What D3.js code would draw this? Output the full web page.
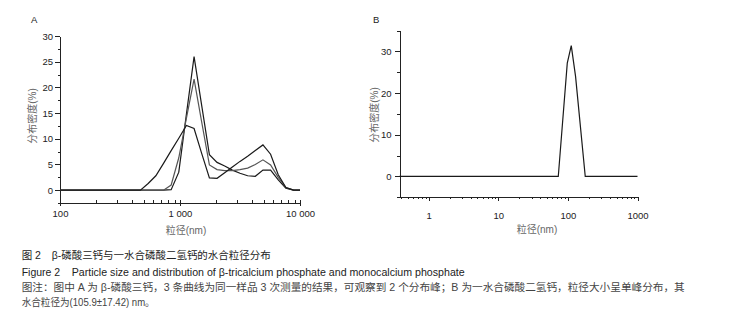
<!DOCTYPE html>
<html>
<head>
<meta charset="utf-8">
<script src="https://cdn.jsdelivr.net/npm/d3@7/dist/d3.min.js"></script>
<style>
  html, body { margin: 0; padding: 0; background: #fff; }
  svg { display: block; }
  text { font-family: "Liberation Sans", Arial, "Noto Sans CJK SC", sans-serif; }
</style>
</head>
<body>
<svg id="chart" width="733" height="323"></svg>
<script>
// ---- Data: panel A (β-TCP, 3 repeated measurements) ----
const sizesA = [100, 468, 543, 629, 729, 844, 977, 1131, 1310, 1518, 1758, 2036, 2358, 2731, 3162, 3662, 4241, 4911, 5688, 6587, 7628, 8834, 10000];
const run1 = [0, 0, 0, 0, 0, 0.1, 3.5, 14.8, 26.0, 16.4, 6.9, 5.4, 4.7, 3.9, 3.3, 2.8, 2.7, 3.9, 3.9, 2.0, 0.4, 0, 0];
const run2 = [0, 0, 0, 0, 0, 1.0, 6.3, 14.0, 21.6, 13.2, 4.9, 4.0, 3.8, 3.8, 4.0, 4.3, 5.0, 5.9, 4.9, 2.5, 0.5, 0, 0];
const run3 = [0, 0, 1.3, 2.8, 5.2, 7.7, 10.1, 12.6, 12.0, 7.1, 2.4, 2.3, 3.4, 4.5, 5.6, 6.6, 7.7, 8.8, 7.0, 3.0, 0.5, 0, 0];

// ---- Data: panel B (MCPM) ----
const sizesB = [0.38, 72.7, 97.9, 111.7, 128.8, 177.5, 1000];
const valuesB = [0, 0, 27.2, 31.4, 24.0, 0, 0];

// ---- Tick labels ----
const xTicksA = [100, 1000, 10000];
const xTickLabelsA = ["100", "1 000", "10 000"];
const yTicksA = [0, 5, 10, 15, 20, 25, 30];
const xTicksB = [1, 10, 100, 1000];
const xTickLabelsB = ["1", "10", "100", "1000"];
const yTicksB = [0, 10, 20, 30];

const yTitle = "分布密度(%)";
const xTitle = "粒径(nm)";
const captionLines = [
  ["图 2", "β-磷酸三钙与一水合磷酸二氢钙的水合粒径分布"],
  ["Figure 2", "Particle size and distribution of β-tricalcium phosphate and monocalcium phosphate"],
  ["图注：图中 A 为 β-磷酸三钙，3 条曲线为同一样品 3 次测量的结果，可观察到 2 个分布峰；B 为一水合磷酸二氢钙，粒径大小呈单峰分布，其"],
  ["水合粒径为(105.9±17.42) nm。"]
];

const svg = d3.select("#chart");
svg.append("rect").attr("width", 733).attr("height", 323).attr("fill", "#fff");

const axisColor = "#222";
const tickFont = 9.5;

function styleAxis(g) {
  g.selectAll("path,line").attr("stroke", axisColor).attr("stroke-width", 1).attr("shape-rendering", "crispEdges");
  g.selectAll("text").attr("fill", "#222").attr("font-size", tickFont);
}

// ================= Panel A =================
const xA = d3.scaleLog().domain([100, 10000]).range([60, 300]);
const yA = d3.scaleLinear().domain([-2.5, 30]).range([203, 36]);

// y axis
const yMinorA = d3.range(-2.5, 30, 5);
svg.append("g").attr("transform", "translate(60,0)")
  .call(d3.axisLeft(yA).tickValues(yMinorA).tickSize(2.5).tickSizeOuter(0).tickFormat(""))
  .call(styleAxis);
svg.append("g").attr("transform", "translate(60,0)")
  .call(d3.axisLeft(yA).tickValues(yTicksA).tickSize(5).tickSizeOuter(0).tickPadding(2).tickFormat(d3.format("d")))
  .call(styleAxis);

// x axis
const minorA = [];
[100, 1000].forEach(dec => { for (let k = 2; k <= 9; k++) minorA.push(dec * k); });
svg.append("g").attr("transform", `translate(0,${yA(-2.5)})`)
  .call(d3.axisTop(xA).tickValues(minorA.concat(xTicksA)).tickSize(3).tickSizeOuter(0).tickFormat(""))
  .call(styleAxis);
svg.append("g").attr("transform", `translate(0,${yA(-2.5)})`)
  .call(d3.axisBottom(xA).tickValues(xTicksA).tickSize(3).tickSizeOuter(0).tickPadding(4)
    .tickFormat((d, i) => xTickLabelsA[i]))
  .call(styleAxis);

// lines
const lineA = d3.line().x(d => xA(d[0])).y(d => yA(d[1]));
[[run1, "#1a1a1a"], [run2, "#555"], [run3, "#1a1a1a"]].forEach(([vals, col]) => {
  svg.append("path")
    .datum(sizesA.map((s, i) => [s, vals[i]]))
    .attr("d", lineA)
    .attr("fill", "none")
    .attr("stroke", col)
    .attr("stroke-width", 1.2)
    .attr("stroke-linejoin", "miter");
});

// titles
svg.append("text").attr("x", 31).attr("y", 23).attr("font-size", 9.5).attr("fill", "#222").text("A");
svg.append("text").attr("transform", "translate(36,116) rotate(-90)")
  .attr("text-anchor", "middle").attr("font-size", 10).attr("fill", "#666").text(yTitle);
svg.append("text").attr("x", 186).attr("y", 233.5)
  .attr("text-anchor", "middle").attr("font-size", 10).attr("fill", "#666").text(xTitle);

// ================= Panel B =================
const xB = d3.scaleLog().domain([0.38, 1000]).range([399.5, 637.5]);
const yB = d3.scaleLinear().domain([-5, 35]).range([197.3, 30.6]);

const yMinorB = d3.range(-5, 36, 10);
svg.append("g").attr("transform", "translate(399.5,0)")
  .call(d3.axisLeft(yB).tickValues(yMinorB).tickSize(2.5).tickSizeOuter(0).tickFormat(""))
  .call(styleAxis);
svg.append("g").attr("transform", "translate(399.5,0)")
  .call(d3.axisLeft(yB).tickValues(yTicksB).tickSize(5).tickSizeOuter(0).tickPadding(3).tickFormat(d3.format("d")))
  .call(styleAxis);

const minorB = [];
[0.1, 1, 10, 100].forEach(dec => { for (let k = 2; k <= 9; k++) { const v = dec * k; if (v >= 0.38 && v <= 1000) minorB.push(v); } });
svg.append("g").attr("transform", `translate(0,${yB(-5)})`)
  .call(d3.axisBottom(xB).tickValues(minorB).tickSize(2).tickSizeOuter(0).tickFormat(""))
  .call(styleAxis);
svg.append("g").attr("transform", `translate(0,${yB(-5)})`)
  .call(d3.axisBottom(xB).tickValues(xTicksB).tickSize(3.5).tickSizeOuter(0).tickPadding(11)
    .tickFormat((d, i) => xTickLabelsB[i]))
  .call(styleAxis);

const lineB = d3.line().x(d => xB(d[0])).y(d => yB(d[1]));
svg.append("path")
  .datum(sizesB.map((s, i) => [s, valuesB[i]]))
  .attr("d", lineB)
  .attr("fill", "none")
  .attr("stroke", "#1a1a1a")
  .attr("stroke-width", 1.2);

svg.append("text").attr("x", 373).attr("y", 23).attr("font-size", 9.5).attr("fill", "#222").text("B");
svg.append("text").attr("transform", "translate(378,115) rotate(-90)")
  .attr("text-anchor", "middle").attr("font-size", 10).attr("fill", "#666").text(yTitle);
svg.append("text").attr("x", 537).attr("y", 233)
  .attr("text-anchor", "middle").attr("font-size", 10).attr("fill", "#666").text(xTitle);

// ================= Caption =================
const cap = svg.append("g").attr("font-size", 10.5);
// line 1
cap.append("text").attr("x", 21.7).attr("y", 259).attr("fill", "#222").text(captionLines[0][0]);
cap.append("text").attr("x", 51.7).attr("y", 259).attr("fill", "#222")
  .attr("textLength", 219).attr("lengthAdjust", "spacingAndGlyphs").text(captionLines[0][1]);
// line 2
cap.append("text").attr("x", 21.7).attr("y", 275.5).attr("fill", "#222")
  .attr("textLength", 38.5).attr("lengthAdjust", "spacingAndGlyphs").text(captionLines[1][0]);
cap.append("text").attr("x", 71.7).attr("y", 275.5).attr("fill", "#222")
  .attr("textLength", 393).attr("lengthAdjust", "spacingAndGlyphs").text(captionLines[1][1]);
// line 3
cap.append("text").attr("x", 21.7).attr("y", 291).attr("fill", "#444")
  .attr("textLength", 663).attr("lengthAdjust", "spacingAndGlyphs").text(captionLines[2][0]);
// line 4
cap.append("text").attr("x", 21.7).attr("y", 306).attr("fill", "#444")
  .attr("textLength", 133).attr("lengthAdjust", "spacingAndGlyphs").text(captionLines[3][0]);
</script>
</body>
</html>
